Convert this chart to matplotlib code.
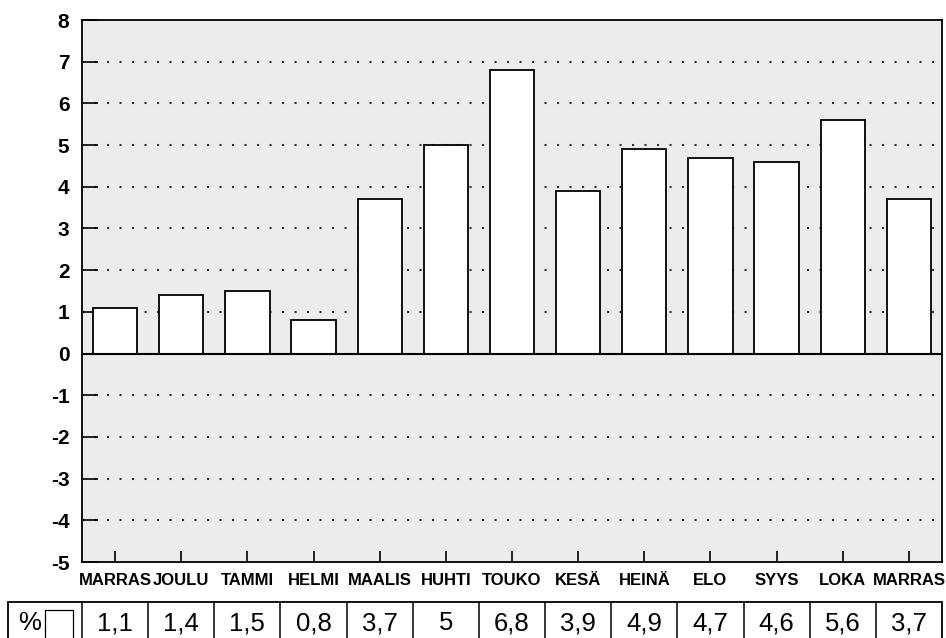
import matplotlib
matplotlib.use("Agg")
import matplotlib.pyplot as plt
from matplotlib.patches import Rectangle

plt.rcParams['font.family'] = ['Liberation Sans', 'DejaVu Sans']

months = ["MARRAS", "JOULU", "TAMMI", "HELMI", "MAALIS", "HUHTI", "TOUKO",
          "KESÄ", "HEINÄ", "ELO", "SYYS", "LOKA", "MARRAS"]
values = [1.1, 1.4, 1.5, 0.8, 3.7, 5.0, 6.8, 3.9, 4.9, 4.7, 4.6, 5.6, 3.7]
table_labels = ["1,1", "1,4", "1,5", "0,8", "3,7", "5", "6,8",
                "3,9", "4,9", "4,7", "4,6", "5,6", "3,7"]
y_ticks = list(range(-5, 9))

W, H = 946, 638
fig = plt.figure(figsize=(W / 100, H / 100), dpi=100)
fig.patch.set_facecolor("white")

# main chart, placed in pixel terms
left, right, top, bottom = 82, 942, 20, 562
ax = fig.add_axes([left / W, (H - bottom) / H, (right - left) / W, (bottom - top) / H])
ax.set_facecolor("#ececec")

x = list(range(len(months)))
ax.bar(x, values, width=0.67, color="white", edgecolor="black", linewidth=1.3, zorder=3)

ax.set_xlim(-0.5, 12.5)
ax.set_ylim(-5, 8)
ax.set_yticks(y_ticks)
ax.set_yticklabels([str(v) for v in y_ticks], fontsize=15, fontweight="bold")
ax.set_xticks(x)
ax.set_xticklabels(months, fontsize=12, fontweight="bold")

ax.tick_params(axis="y", direction="in", length=11.5, width=1.2, pad=9)
ax.tick_params(axis="x", direction="in", length=8, width=1.2, pad=8)

for g in y_ticks:
    if g in (-5, 0, 8):
        continue
    ax.axhline(g, color="#333333", linestyle=(0, (1, 5)), linewidth=1.5, zorder=1)
ax.axhline(0, color="black", linewidth=1.5, zorder=4)

for s in ax.spines.values():
    s.set_linewidth(1.3)

# table row under the chart
tleft, ttop = 8, 602
tax = fig.add_axes([tleft / W, -0.02, (right - tleft) / W, (H - ttop) / H + 0.02])
unit = (right - left) / 13.0
x0 = -0.5 - (left - tleft) / unit
tax.set_xlim(x0, 12.5)
tax.set_ylim(0, 1)
tax.axis("off")
tax.add_patch(Rectangle((x0, 0.02), 12.5 - x0, 0.97, fill=False,
                        edgecolor="black", linewidth=1.3, clip_on=False))
for i in range(13):
    tax.plot([i - 0.5, i - 0.5], [0.02, 0.99], color="black", linewidth=1.1)
    tax.text(i, 0.56, table_labels[i], ha="center", va="center", fontsize=18.5)
tax.text(x0 + 0.33, 0.56, "%", ha="center", va="center", fontsize=18.5)
tax.add_patch(Rectangle((x0 + 0.56, 0.0), 0.42, 0.835, fill=False,
                        edgecolor="black", linewidth=0.9))

fig.savefig("out.png", dpi=100)
